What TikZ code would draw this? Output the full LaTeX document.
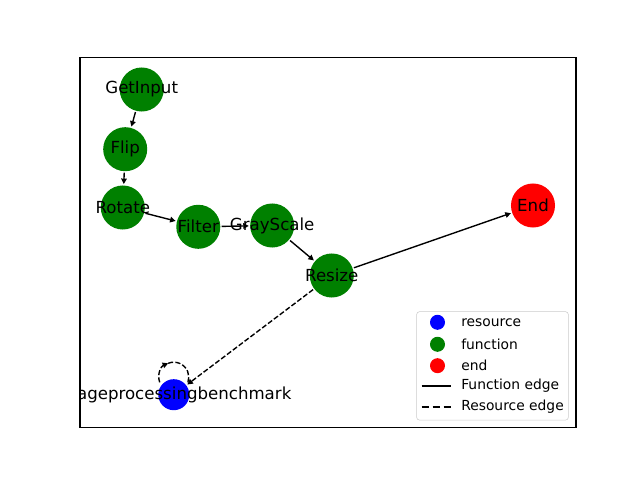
\documentclass[tikz,border=0pt]{standalone}
\usepackage{fontspec}
\setmainfont{DejaVu Sans}
\definecolor{nxBlue}{HTML}{0000FF}
\definecolor{nxGreen}{HTML}{008000}
\definecolor{nxRed}{HTML}{FF0000}
\definecolor{legEdge}{HTML}{CCCCCC}
\usetikzlibrary{calc,arrows.meta}

\begin{document}
\begin{tikzpicture}[x=0.01in, y=-0.01in,
  every label/.style={font=\fontsize{12pt}{14pt}\selectfont, text=black, inner sep=0pt},
  fnode/.style={circle, fill=nxGreen, minimum size=0.44in, inner sep=0pt, outer sep=1pt},
  rnode/.style={circle, fill=nxBlue, minimum size=0.31in, inner sep=0pt, outer sep=1pt},
  enode/.style={circle, fill=nxRed, minimum size=0.44in, inner sep=0pt, outer sep=1pt},
  arr/.style={-{Triangle[length=4pt,width=4pt]}, line width=1pt},
  resarr/.style={arr, dash pattern=on 3.7pt off 1.6pt},
  resedge/.style={line width=1pt, dash pattern=on 3.7pt off 1.6pt},
  legbox/.style={draw=legEdge, fill=white, fill opacity=0.8, rounded corners=2pt,
    minimum width=1.516in, minimum height=1.083in, inner sep=0pt},
  legdot/.style={circle, minimum size=0.15in, inner sep=0pt},
  legtext/.style={anchor=west, inner sep=0pt, font=\fontsize{10pt}{12pt}\selectfont}
]
  \useasboundingbox (0,0) rectangle (640,480);

  \begin{scope}
  \clip (80,57.6) rectangle (576,427.2);
  \node[fnode, label=center:GetInput] (getinput) at (141.7,89.5) {};
  \node[fnode, label=center:Flip] (flip) at (125.2,149.2) {};
  \node[fnode, label=center:Rotate] (rotate) at (122.8,207.5) {};
  \node[fnode, label=center:Filter] (filter) at (198.3,226.8) {};
  \node[fnode, label=center:GrayScale] (grayscale) at (272.2,225.5) {};
  \node[fnode, label=center:Resize] (resize) at (331.8,275.5) {};
  \node[enode, label=center:End] (end) at (533,205.5) {};
  \node[rnode, label=center:imageprocessingbenchmark] (bench) at (173.8,394.7) {};

  \draw[arr] (getinput) -- (flip);
  \draw[arr] (flip) -- (rotate);
  \draw[arr] (rotate) -- (filter);
  \draw[arr] (filter) -- (grayscale);
  \draw[arr] (grayscale) -- (resize);
  \draw[arr] (resize) -- (end);
  \draw[resarr] (resize) -- (bench);

  % self loop on the resource
  \draw[resarr] ($(bench)+(0,-17.5)+(160:15)$) arc[start angle=160, end angle=248, radius=15];
  \draw[resedge] ($(bench)+(0,-17.5)+(248:15)$) arc[start angle=248, end angle=380, radius=15];
  \end{scope}
  \draw[line width=0.8pt] (80,57.6) rectangle (576,427.2);

  % legend
  \node[legbox] (legend) at (492.5,365.9) {};
  \node[legdot, fill=nxBlue] (dotres) at (437.5,322.3) {};
  \node[legtext] (txtres) at (461,322.3) {resource};
  \node[legdot, fill=nxGreen] (dotfun) at (437.5,344.3) {};
  \node[legtext] (txtfun) at (461,344.3) {function};
  \node[legdot, fill=nxRed] (dotend) at (437.5,365.7) {};
  \node[legtext] (txtend) at (461,365.7) {end};
  \draw[line width=1.5pt] (421.7,386) -- (450.7,386);
  \node[legtext] (txtfedge) at (461,386) {Function edge};
  \draw[line width=1.5pt, dash pattern=on 5.55pt off 2.4pt] (421.7,406.7) -- (450.7,406.7);
  \node[legtext] (txtredge) at (461,406.7) {Resource edge};
\end{tikzpicture}
\end{document}
